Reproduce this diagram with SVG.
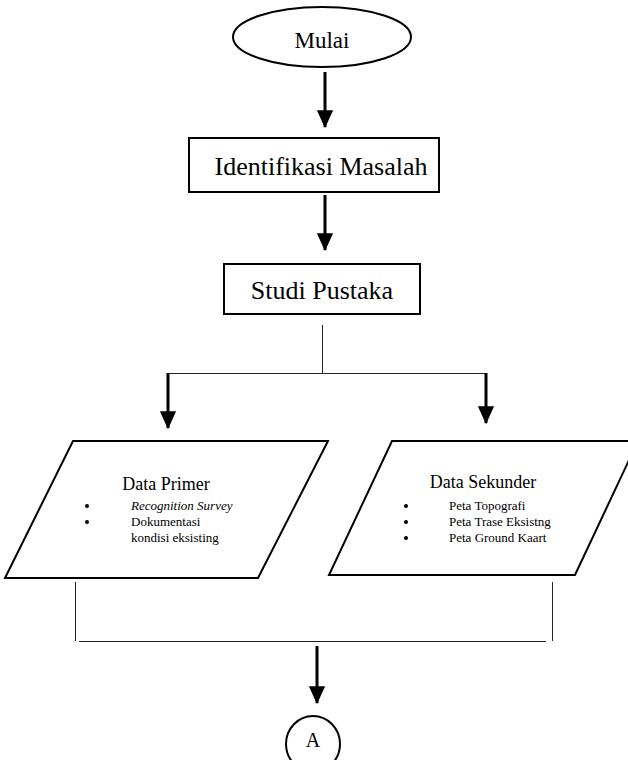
<svg xmlns="http://www.w3.org/2000/svg" width="628" height="760" viewBox="0 0 628 760">
<defs>
<style>
.shape{fill:#fff;stroke:#000;stroke-width:2}
.t{font-family:"Liberation Serif","Times New Roman",serif;fill:#000}
.thick{stroke:#000;stroke-width:3;fill:none}
.thin{stroke:#222;stroke-width:1;fill:none}
</style>
<marker id="ah" markerWidth="6" markerHeight="6" refX="5.6" refY="3" orient="auto" markerUnits="strokeWidth" viewBox="0 0 6 6">
<path d="M0,0.3 L6,3 L0,5.7 Z" fill="#000"/>
</marker>
</defs>
<rect width="628" height="760" fill="#fff"/>
<g id="mulai">
<ellipse class="shape" cx="322" cy="37" rx="89" ry="30"/>
<text class="t" x="322" y="48" font-size="23" text-anchor="middle">Mulai</text>
</g>
<g id="identifikasi">
<rect class="shape" x="189" y="138" width="250" height="54"/>
<text class="t" x="321" y="175" font-size="26" text-anchor="middle">Identifikasi Masalah</text>
</g>
<g id="studi">
<rect class="shape" x="224" y="264" width="196" height="50"/>
<text class="t" x="322" y="299" font-size="26" text-anchor="middle">Studi Pustaka</text>
</g>
<g id="primer">
<polygon class="shape" points="73,441 328,441 258,578 5,578"/>
<text class="t" x="166" y="490" font-size="18" text-anchor="middle">Data Primer</text>
<circle cx="87" cy="506" r="2"/>
<circle cx="87" cy="522" r="2"/>
<text class="t" x="131" y="510" font-size="13" font-style="italic">Recognition Survey</text>
<text class="t" x="131" y="526" font-size="13">Dokumentasi</text>
<text class="t" x="131" y="542" font-size="13">kondisi eksisting</text>
</g>
<g id="sekunder">
<polygon class="shape" points="392,441 638,441 575,575 329,575"/>
<text class="t" x="483" y="488" font-size="18" text-anchor="middle">Data Sekunder</text>
<circle cx="406" cy="506" r="2"/>
<circle cx="406" cy="522" r="2"/>
<circle cx="406" cy="538" r="2"/>
<text class="t" x="449" y="510" font-size="13">Peta Topografi</text>
<text class="t" x="449" y="526" font-size="13">Peta Trase Eksistng</text>
<text class="t" x="449" y="542" font-size="13">Peta Ground Kaart</text>
</g>
<g id="a">
<ellipse class="shape" cx="313" cy="744" rx="27" ry="28"/>
<text class="t" x="313" y="747" font-size="20" text-anchor="middle">A</text>
</g>
<g id="connectors">
<line class="thick" x1="325" y1="72" x2="325" y2="127" marker-end="url(#ah)"/>
<line class="thick" x1="325" y1="195" x2="325" y2="250" marker-end="url(#ah)"/>
<line class="thin" x1="322.5" y1="325" x2="322.5" y2="373"/>
<line class="thin" x1="168" y1="373.5" x2="486" y2="373.5"/>
<line class="thick" x1="168" y1="373" x2="168" y2="428" marker-end="url(#ah)"/>
<line class="thick" x1="486" y1="373" x2="486" y2="423" marker-end="url(#ah)"/>
<line class="thin" x1="75.5" y1="582" x2="75.5" y2="641"/>
<line class="thin" x1="552.5" y1="582" x2="552.5" y2="641"/>
<line class="thin" x1="79" y1="641.5" x2="546" y2="641.5"/>
<line class="thick" x1="317" y1="646" x2="317" y2="703" marker-end="url(#ah)"/>
</g>
</svg>
